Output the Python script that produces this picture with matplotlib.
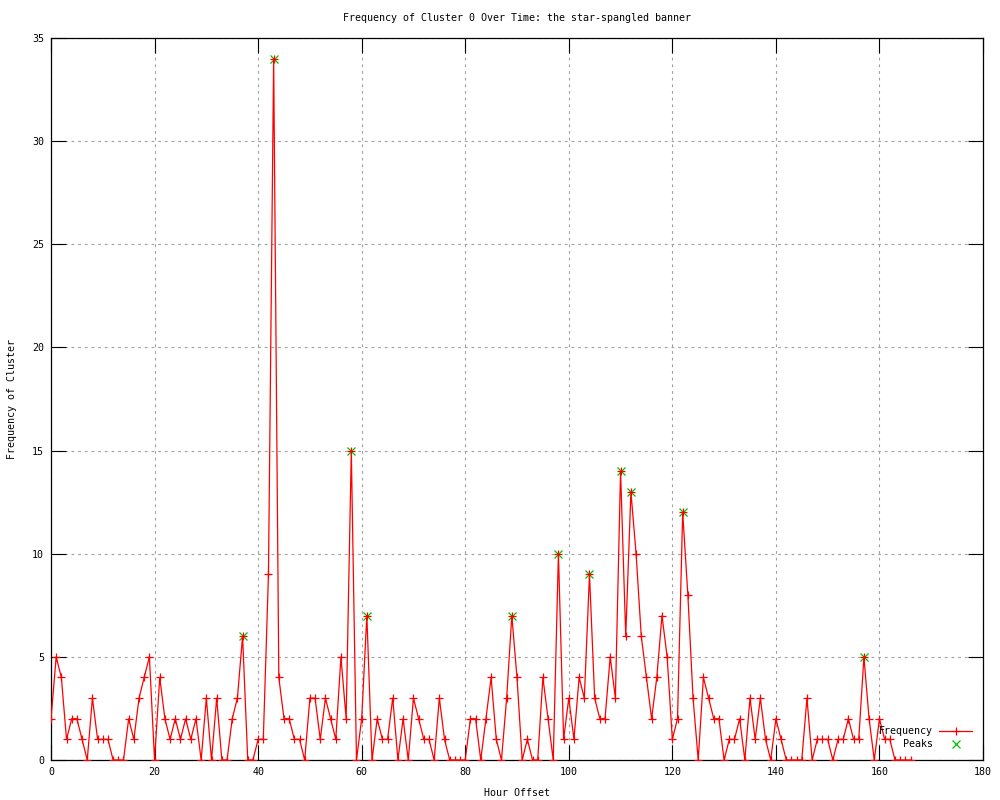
import matplotlib
matplotlib.use("Agg")
import matplotlib.pyplot as plt
from matplotlib.lines import Line2D

hours = list(range(0, 167))
frequency = [
    2, 5, 4, 1, 2, 2, 1, 0, 3, 1,      # 0-9
    1, 1, 0, 0, 0, 2, 1, 3, 4, 5,      # 10-19
    0, 4, 2, 1, 2, 1, 2, 1, 2, 0,      # 20-29
    3, 0, 3, 0, 0, 2, 3, 6, 0, 0,      # 30-39
    1, 1, 9, 34, 4, 2, 2, 1, 1, 0,     # 40-49
    3, 3, 1, 3, 2, 1, 5, 2, 15, 0,     # 50-59
    2, 7, 0, 2, 1, 1, 3, 0, 2, 0,      # 60-69
    3, 2, 1, 1, 0, 3, 1, 0, 0, 0,      # 70-79
    0, 2, 2, 0, 2, 4, 1, 0, 3, 7,      # 80-89
    4, 0, 1, 0, 0, 4, 2, 0, 10, 1,     # 90-99
    3, 1, 4, 3, 9, 3, 2, 2, 5, 3,      # 100-109
    14, 6, 13, 10, 6, 4, 2, 4, 7, 5,   # 110-119
    1, 2, 12, 8, 3, 0, 4, 3, 2, 2,     # 120-129
    0, 1, 1, 2, 0, 3, 1, 3, 1, 0,      # 130-139
    2, 1, 0, 0, 0, 0, 3, 0, 1, 1,      # 140-149
    1, 0, 1, 1, 2, 1, 1, 5, 2, 0,      # 150-159
    2, 1, 1, 0, 0, 0, 0,               # 160-166
]
peak_hours = [37, 43, 58, 61, 89, 98, 104, 110, 112, 122, 157]
peak_values = [6, 34, 15, 7, 7, 10, 9, 14, 13, 12, 5]

x_ticks = list(range(0, 181, 20))
y_ticks = list(range(0, 36, 5))

title = "Frequency of Cluster 0 Over Time: the star-spangled banner"
xlabel = "Hour Offset"
ylabel = "Frequency of Cluster"

FONT = "DejaVu Sans Mono"
FS = 7.2
plt.rcParams['font.family'] = [FONT]

fig = plt.figure(figsize=(10, 8), dpi=100)
ax = fig.add_axes([0.051, 0.05, 0.932, 0.9025])

ax.plot(peak_hours, peak_values, linestyle='none', marker='x', color='#00c000',
        markersize=5.5, markeredgewidth=0.9, zorder=3, label='Peaks')
ax.plot(hours, frequency, color='#ff0000', linewidth=0.9, marker='+',
        markersize=5.5, markeredgewidth=0.9, zorder=4, label='Frequency')

ax.set_xlim(0, 180)
ax.set_ylim(0, 35)
ax.set_xticks(x_ticks)
ax.set_yticks(y_ticks)
ax.set_xticklabels([str(v) for v in x_ticks], fontsize=FS)
ax.set_yticklabels([str(v) for v in y_ticks], fontsize=FS)
ax.tick_params(direction='in', length=11, width=0.8, top=True, right=True,
               pad=5, colors='black')
ax.grid(True, color='#a0a0a0', linestyle=(0, (2.5, 3.5)), linewidth=0.8, zorder=0)
ax.set_axisbelow(True)
for s in ax.spines.values():
    s.set_linewidth(0.9)
    s.set_color('black')

ax.text(0.5, 1.0277, title, transform=ax.transAxes, ha='center', va='center',
        fontsize=FS)
ax.set_xlabel(xlabel, fontsize=FS, va='center')
ax.xaxis.set_label_coords(0.5, -0.0457)
ax.set_ylabel(ylabel, fontsize=FS, va='center')
ax.yaxis.set_label_coords(-0.0418, 0.5)

handles = [
    Line2D([], [], color='#ff0000', linewidth=0.9, marker='+', markersize=5.5,
           markeredgewidth=0.9),
    Line2D([], [], color='#00c000', linestyle='none', marker='x', markersize=5.5,
           markeredgewidth=0.9),
]
leg = ax.legend(handles, ['Frequency', 'Peaks'], loc='lower right',
                frameon=False, markerfirst=False, fontsize=FS,
                handlelength=3.3, handletextpad=0.6, labelspacing=0.3,
                borderaxespad=0.7, borderpad=0.4)
for t in leg.get_texts():
    t.set_ha('right')

fig.savefig("out.png", dpi=100, facecolor='white')
